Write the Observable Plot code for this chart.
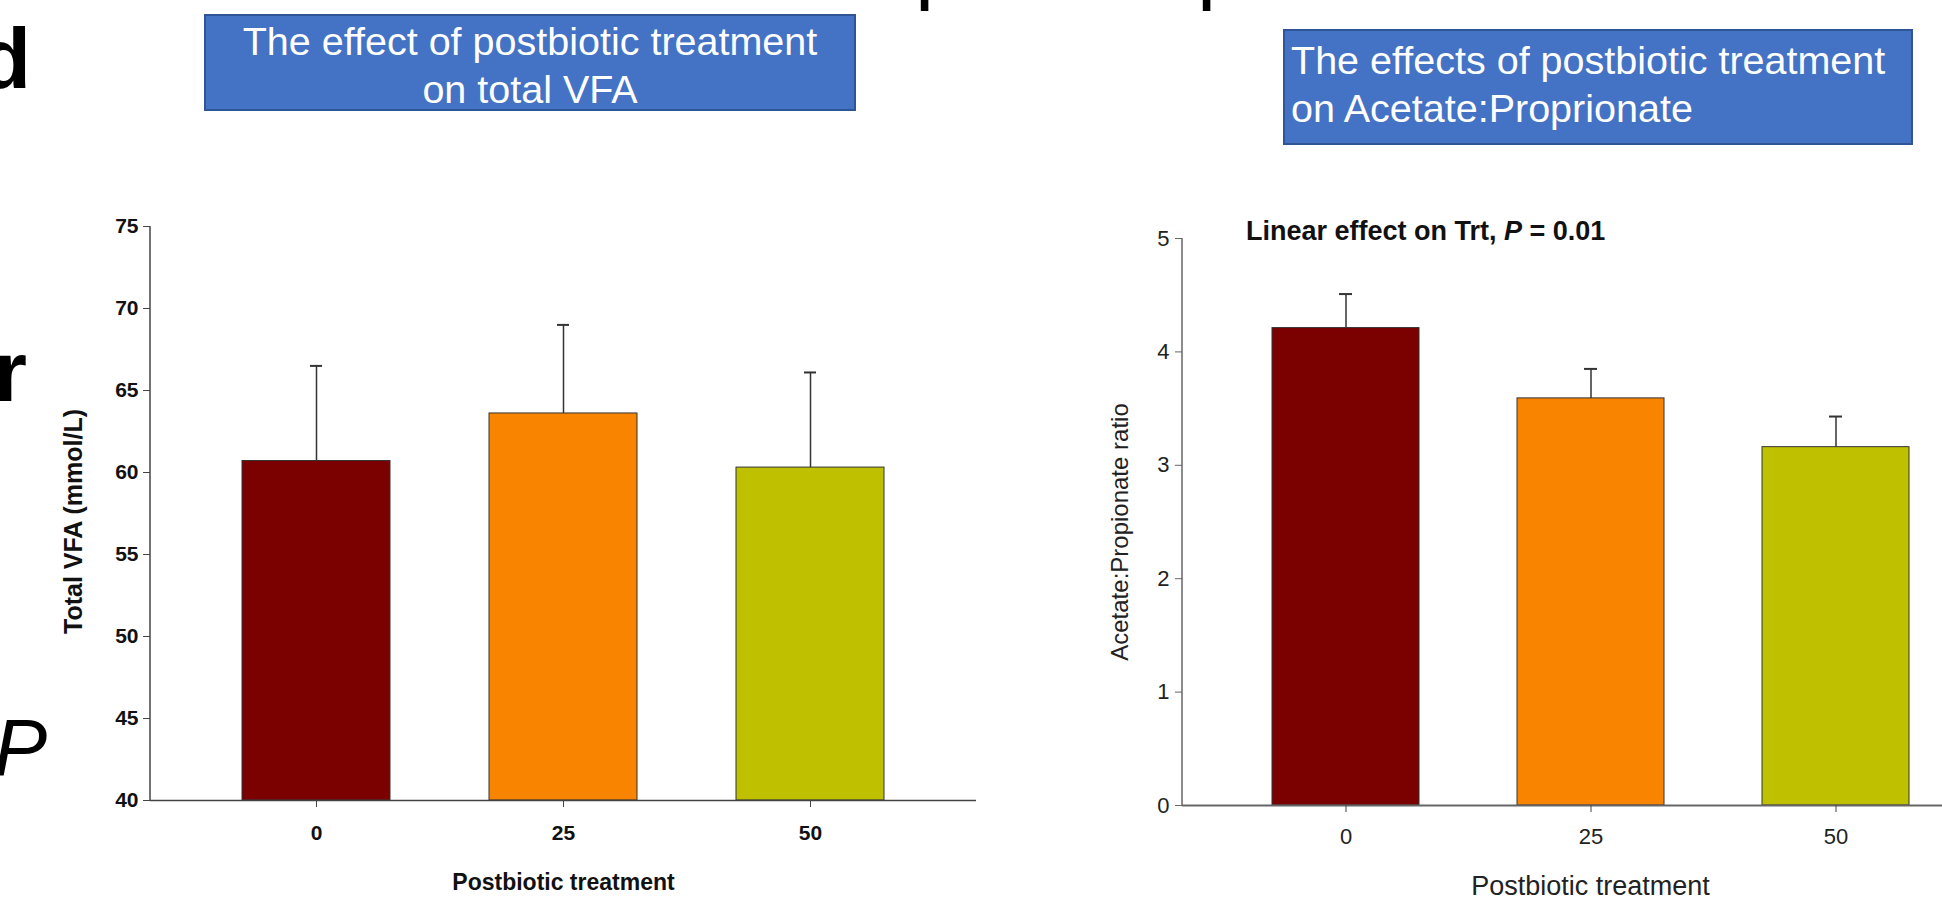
<!DOCTYPE html>
<html>
<head>
<meta charset="utf-8">
<script src="https://cdn.jsdelivr.net/npm/d3@7"></script>
<script src="https://cdn.jsdelivr.net/npm/@observablehq/plot@0.6"></script>
<style>
  html, body { margin: 0; padding: 0; background: #fff; }
  body { width: 1942px; height: 900px; overflow: hidden; position: relative; font-family: "Liberation Sans", Arial, sans-serif; }
  .box { position: absolute; background: #4472C4; border: 2px solid #2F5597; color: #fff; font-size: 39.5px; line-height: 47.5px; box-sizing: border-box; }
  .frag { position: absolute; font-size: 86px; line-height: 1; color: #000; white-space: nowrap; text-align: right; }
  .sub { position: absolute; font-size: 27px; line-height: 1; font-weight: bold; color: #111; white-space: nowrap; }
  .plot { position: absolute; }
</style>
</head>
<body>
<div class="frag" style="left:-200px;width:231px;top:15px;font-weight:bold;">d</div>
<div class="frag" style="left:-200px;width:227px;top:328px;font-weight:bold;">r</div>
<div class="frag" style="left:-200px;width:247px;top:708px;font-size:80px;font-style:italic;">P</div>
<div class="frag" style="left:915px;top:-80px;text-align:left;">p</div>
<div class="frag" style="left:1197px;top:-80px;text-align:left;">p</div>

<div class="box" style="left:204px;top:14px;width:652px;height:97px;padding-top:2px;text-align:center;">The effect of postbiotic treatment<br>on total VFA</div>
<div class="box" style="left:1283px;top:29px;width:630px;height:116px;padding-top:6px;padding-left:6px;text-align:left;">The effects of postbiotic treatment<br>on Acetate:Proprionate</div>

<div id="left" class="plot" style="left:0px;top:150px;"></div>
<div id="right" class="plot" style="left:1000px;top:150px;"></div>
<div class="sub" style="left:1246px;top:218px;">Linear effect on Trt, <i>P</i> = 0.01</div>

<script>
// ---- data ----
const treatments = ["0", "25", "50"];
const barColors = ["#7B0000", "#F88400", "#BFC000"];

const totalVFA = [60.7, 63.6, 60.3];
const totalVFAUpper = [66.5, 69.0, 66.1];
const vfaTicks = [40, 45, 50, 55, 60, 65, 70, 75];
const vfaDomain = [40, 75];
const vfaYLabel = "Total VFA (mmol/L)";

const acRatio = [4.21, 3.59, 3.16];
const acRatioUpper = [4.51, 3.85, 3.43];
const ratioTicks = [0, 1, 2, 3, 4, 5];
const ratioDomain = [0, 5];
const ratioYLabel = "Acetate:Propionate ratio";

const xLabel = "Postbiotic treatment";

// ---- helpers ----
const svgNS = "http://www.w3.org/2000/svg";
function yAxisLine(lo, hi, color, width) {
  return (index, scales, values, dims) => {
    const el = document.createElementNS(svgNS, "line");
    el.setAttribute("x1", dims.marginLeft);
    el.setAttribute("x2", dims.marginLeft);
    el.setAttribute("y1", scales.y(lo));
    el.setAttribute("y2", scales.y(hi));
    el.setAttribute("stroke", color);
    el.setAttribute("stroke-width", width);
    return el;
  };
}

const vfaRows = treatments.map((t, i) => ({trt: t, v: totalVFA[i], hi: totalVFAUpper[i]}));
const ratioRows = treatments.map((t, i) => ({trt: t, v: acRatio[i], hi: acRatioUpper[i]}));

const axisColor = "#444";
const errColor = "#333";

// ---- left chart ----
const left = Plot.plot({
  width: 1000,
  height: 750,
  marginLeft: 150,
  marginRight: 24,
  marginTop: 76,
  marginBottom: 100,
  style: {fontFamily: "'Liberation Sans', Arial, sans-serif", fontSize: "21px", fontWeight: "bold", color: "#111", background: "transparent", overflow: "visible"},
  x: {type: "band", domain: treatments, paddingInner: 0.4, paddingOuter: 0.37, axis: null},
  y: {domain: vfaDomain, axis: null},
  color: {domain: treatments, range: barColors},
  marks: [
    Plot.barY(vfaRows, {x: "trt", y1: vfaDomain[0], y2: "v", fill: "trt", stroke: "#333", strokeWidth: 1}),
    Plot.ruleX(vfaRows, {x: "trt", y1: "v", y2: "hi", stroke: errColor, strokeWidth: 1.5}),
    Plot.tickY(vfaRows, {x: "trt", y: "hi", insetLeft: 68, insetRight: 68, stroke: errColor, strokeWidth: 2}),
    Plot.ruleY([vfaDomain[0]], {stroke: axisColor, strokeWidth: 1.5}),
    yAxisLine(vfaDomain[0], vfaDomain[1], axisColor, 1.5),
    Plot.axisY({ticks: vfaTicks, tickFormat: "d", tickSize: 7, tickPadding: 5, stroke: axisColor, label: null}),
    Plot.axisX({tickSize: 7, tickPadding: 18, stroke: axisColor, label: null}),
    Plot.text([vfaYLabel], {text: d => d, frameAnchor: "left", textAnchor: "middle", rotate: -90, dx: -86, dy: 8, lineAnchor: "top", fontSize: 25, fontWeight: "bold"}),
    Plot.text([xLabel], {text: d => d, frameAnchor: "bottom", textAnchor: "middle", dy: 82, lineAnchor: "middle", fontSize: 23, fontWeight: "bold"})
  ]
});
document.getElementById("left").appendChild(left);

// ---- right chart ----
const right = Plot.plot({
  width: 942,
  height: 750,
  marginLeft: 182,
  marginRight: 0,
  marginTop: 88,
  marginBottom: 95,
  style: {fontFamily: "'Liberation Sans', Arial, sans-serif", fontSize: "22px", color: "#222", background: "transparent", overflow: "visible"},
  x: {type: "band", domain: treatments, paddingInner: 0.4, paddingOuter: 0.245, align: 0.73, axis: null},
  y: {domain: ratioDomain, axis: null},
  color: {domain: treatments, range: barColors},
  marks: [
    Plot.barY(ratioRows, {x: "trt", y: "v", fill: "trt", stroke: "#333", strokeWidth: 1}),
    Plot.ruleX(ratioRows, {x: "trt", y1: "v", y2: "hi", stroke: errColor, strokeWidth: 1.5}),
    Plot.tickY(ratioRows, {x: "trt", y: "hi", insetLeft: 67, insetRight: 67, stroke: errColor, strokeWidth: 2}),
    Plot.ruleY([ratioDomain[0]], {stroke: "#666", strokeWidth: 2}),
    yAxisLine(ratioDomain[0], ratioDomain[1], "#666", 1.5),
    Plot.axisY({ticks: ratioTicks, tickFormat: "d", tickSize: 7, tickPadding: 6, stroke: "#666", label: null}),
    Plot.axisX({tickSize: 7, tickPadding: 16, stroke: "#444", label: null}),
    Plot.text([ratioYLabel], {text: d => d, frameAnchor: "left", textAnchor: "middle", rotate: -90, dx: -72, dy: 10, lineAnchor: "top", fontSize: 24}),
    Plot.text([xLabel], {text: d => d, frameAnchor: "bottom", textAnchor: "middle", dx: 28, dy: 81, lineAnchor: "middle", fontSize: 27})
  ]
});
document.getElementById("right").appendChild(right);
</script>
</body>
</html>
